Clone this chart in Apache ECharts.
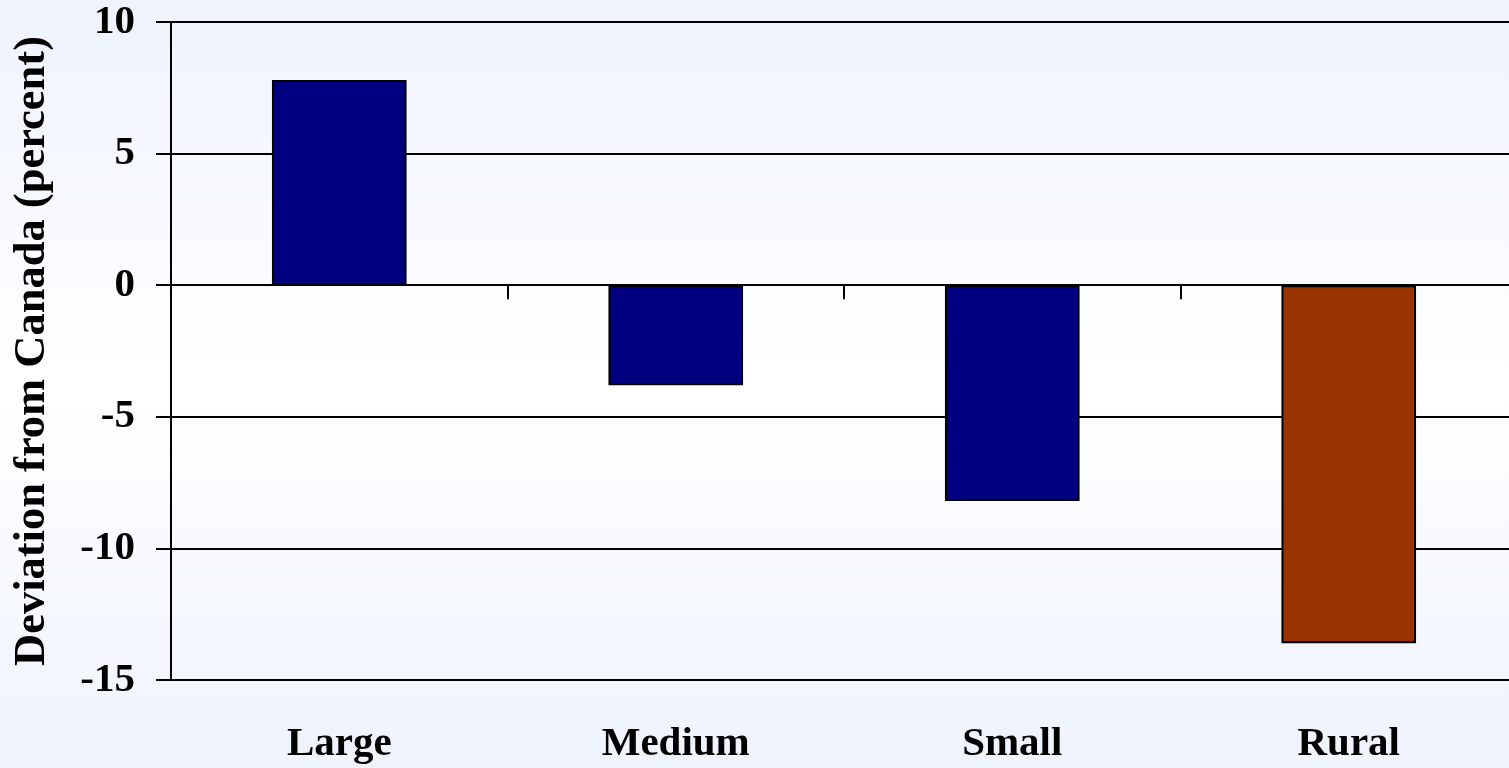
<!DOCTYPE html>
<html>
<head>
<meta charset="utf-8">
<script src="https://cdn.jsdelivr.net/npm/echarts@6/dist/echarts.min.js"></script>
<style>
  html, body { margin: 0; padding: 0; }
  #chart { width: 1509px; height: 768px; }
</style>
</head>
<body>
<div id="chart"></div>
<script>
const categories = ['Large', 'Medium', 'Small', 'Rural'];
const deviation = [7.8, -3.8, -8.2, -13.6];
const barColors = ['#000080', '#000080', '#000080', '#993300'];
const yTicks = { min: -15, max: 10, step: 5 };

const serif = "'Liberation Serif', 'Times New Roman', serif";
const chart = echarts.init(document.getElementById('chart'));

let option = {
  backgroundColor: {
    type: 'linear', x: 0, y: 0, x2: 0, y2: 1,
    colorStops: [
      {offset: 0, color: '#eef3fc'},
      {offset: 0.5, color: '#ffffff'},
      {offset: 1, color: '#eef3fc'}
    ]
  },
  animation: false,
  grid: {
    left: 171,
    right: -8,
    top: 22,
    bottom: 88,
    outerBoundsMode: 'none'
  },
  xAxis: [
    {
      // axis line at zero with ticks between categories
      type: 'category',
      data: categories,
      axisLine: {
        onZero: true,
        lineStyle: {color: '#000', width: 2}
      },
      axisTick: {
        show: true,
        length: 14,
        lineStyle: {color: '#000', width: 2}
      },
      axisLabel: {show: false},
      splitLine: {show: false}
    },
    {
      // labels along the bottom
      type: 'category',
      data: categories,
      position: 'bottom',
      axisLine: {show: false, onZero: false},
      axisTick: {show: false},
      axisLabel: {
        margin: 44,
        color: '#000',
        fontFamily: serif,
        fontWeight: 'bold',
        fontSize: 41
      }
    }
  ],
  yAxis: {
    type: 'value',
    min: yTicks.min,
    max: yTicks.max,
    interval: yTicks.step,
    name: 'Deviation from Canada (percent)',
    nameLocation: 'middle',
    nameRotate: 90,
    nameGap: 116,
    nameTextStyle: {
      color: '#000',
      fontFamily: serif,
      fontWeight: 'bold',
      fontSize: 44.5
    },
    axisLine: {
      show: true,
      lineStyle: {color: '#000', width: 2}
    },
    axisTick: {
      show: true,
      length: 15,
      lineStyle: {color: '#000', width: 2}
    },
    axisLabel: {
      margin: 36,
      color: '#000',
      fontFamily: serif,
      fontWeight: 'bold',
      fontSize: 41
    },
    splitLine: {
      show: true,
      lineStyle: {color: '#000', width: 2}
    }
  },
  series: [
    {
      type: 'bar',
      xAxisIndex: 0,
      barWidth: '40%',
      data: deviation.map((v, i) => ({
        value: v,
        itemStyle: {color: barColors[i]}
      })),
      itemStyle: {
        borderColor: '#000',
        borderWidth: 2
      }
    }
  ]
};
chart.setOption(option);
</script>
</body>
</html>
